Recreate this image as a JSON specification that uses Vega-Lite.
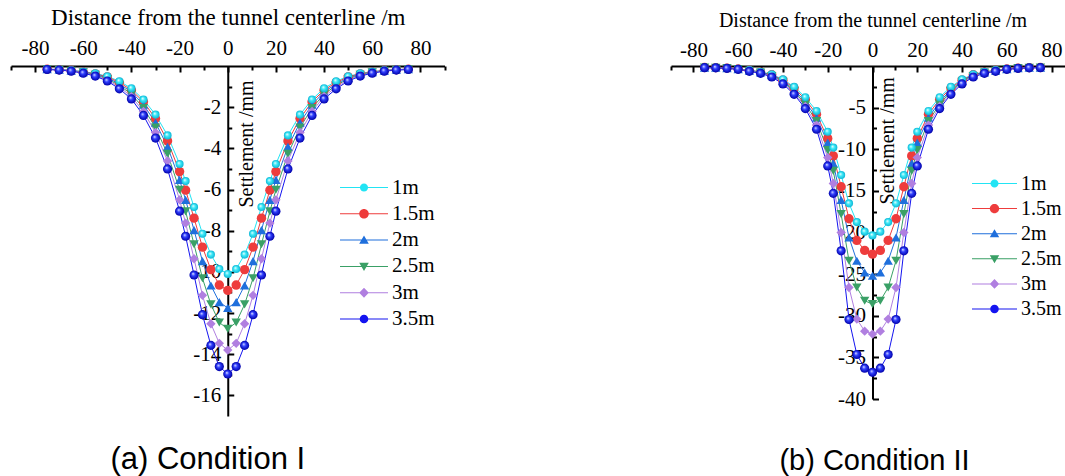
{
"$schema": "https://vega.github.io/schema/vega-lite/v6.json",
"background": "white",
"padding": {"left": 10, "top": 6, "right": 0, "bottom": 0},
"spacing": 224,
"config": {
  "view": {"stroke": null},
  "axis": {"domainColor": "black", "domainWidth": 2, "tickColor": "black", "tickWidth": 2, "labelFont": "Liberation Serif", "labelFontSize": 21, "labelColor": "black", "titleFont": "Liberation Serif", "titleFontSize": 21, "titleFontWeight": "normal", "titleColor": "black", "grid": false, "labelFlush": false, "labelOverlap": false, "labelBound": false},
  "legend": {"labelFont": "Liberation Serif", "labelFontSize": 21, "labelColor": "black", "padding": 0, "symbolStrokeWidth": 0, "symbolOpacity": 1, "clipHeight": 22, "rowPadding": 4.3, "labelOffset": 4},
  "title": {"font": "Liberation Sans", "fontSize": 29, "fontWeight": "normal", "color": "black"}
},
"resolve": {"scale": {"color": "independent", "shape": "independent"}, "legend": {"color": "independent", "shape": "independent"}},
"datasets": {
"c1": [
{"x":-75,"s":-0.15,"d":"1m"},{"x":-70,"s":-0.17,"d":"1m"},{"x":-65,"s":-0.21,"d":"1m"},{"x":-60,"s":-0.27,"d":"1m"},{"x":-55,"s":-0.36,"d":"1m"},{"x":-50,"s":-0.5,"d":"1m"},{"x":-45,"s":-0.74,"d":"1m"},{"x":-40,"s":-1.08,"d":"1m"},{"x":-35,"s":-1.63,"d":"1m"},{"x":-30,"s":-2.36,"d":"1m"},{"x":-25,"s":-3.37,"d":"1m"},{"x":-20,"s":-4.76,"d":"1m"},{"x":-17.5,"s":-5.59,"d":"1m"},{"x":-14,"s":-6.85,"d":"1m"},{"x":-10.5,"s":-8.15,"d":"1m"},{"x":-7,"s":-9.16,"d":"1m"},{"x":-3.5,"s":-9.86,"d":"1m"},{"x":0,"s":-10.1,"d":"1m"},{"x":3.5,"s":-9.86,"d":"1m"},{"x":7,"s":-9.16,"d":"1m"},{"x":10.5,"s":-8.15,"d":"1m"},{"x":14,"s":-6.85,"d":"1m"},{"x":17.5,"s":-5.59,"d":"1m"},{"x":20,"s":-4.76,"d":"1m"},{"x":25,"s":-3.37,"d":"1m"},{"x":30,"s":-2.36,"d":"1m"},{"x":35,"s":-1.63,"d":"1m"},{"x":40,"s":-1.08,"d":"1m"},{"x":45,"s":-0.74,"d":"1m"},{"x":50,"s":-0.5,"d":"1m"},{"x":55,"s":-0.36,"d":"1m"},{"x":60,"s":-0.27,"d":"1m"},{"x":65,"s":-0.21,"d":"1m"},{"x":70,"s":-0.17,"d":"1m"},{"x":75,"s":-0.15,"d":"1m"},
{"x":-75,"s":-0.15,"d":"1.5m"},{"x":-70,"s":-0.18,"d":"1.5m"},{"x":-65,"s":-0.22,"d":"1.5m"},{"x":-60,"s":-0.29,"d":"1.5m"},{"x":-55,"s":-0.38,"d":"1.5m"},{"x":-50,"s":-0.53,"d":"1.5m"},{"x":-45,"s":-0.8,"d":"1.5m"},{"x":-40,"s":-1.17,"d":"1.5m"},{"x":-35,"s":-1.74,"d":"1.5m"},{"x":-30,"s":-2.55,"d":"1.5m"},{"x":-25,"s":-3.64,"d":"1.5m"},{"x":-20,"s":-5.13,"d":"1.5m"},{"x":-17.5,"s":-6.03,"d":"1.5m"},{"x":-14,"s":-7.39,"d":"1.5m"},{"x":-10.5,"s":-8.8,"d":"1.5m"},{"x":-7,"s":-9.89,"d":"1.5m"},{"x":-3.5,"s":-10.64,"d":"1.5m"},{"x":0,"s":-10.9,"d":"1.5m"},{"x":3.5,"s":-10.64,"d":"1.5m"},{"x":7,"s":-9.89,"d":"1.5m"},{"x":10.5,"s":-8.8,"d":"1.5m"},{"x":14,"s":-7.39,"d":"1.5m"},{"x":17.5,"s":-6.03,"d":"1.5m"},{"x":20,"s":-5.13,"d":"1.5m"},{"x":25,"s":-3.64,"d":"1.5m"},{"x":30,"s":-2.55,"d":"1.5m"},{"x":35,"s":-1.74,"d":"1.5m"},{"x":40,"s":-1.17,"d":"1.5m"},{"x":45,"s":-0.8,"d":"1.5m"},{"x":50,"s":-0.53,"d":"1.5m"},{"x":55,"s":-0.38,"d":"1.5m"},{"x":60,"s":-0.29,"d":"1.5m"},{"x":65,"s":-0.22,"d":"1.5m"},{"x":70,"s":-0.18,"d":"1.5m"},{"x":75,"s":-0.15,"d":"1.5m"},
{"x":-75,"s":-0.16,"d":"2m"},{"x":-70,"s":-0.18,"d":"2m"},{"x":-65,"s":-0.23,"d":"2m"},{"x":-60,"s":-0.3,"d":"2m"},{"x":-55,"s":-0.4,"d":"2m"},{"x":-50,"s":-0.58,"d":"2m"},{"x":-45,"s":-0.87,"d":"2m"},{"x":-40,"s":-1.26,"d":"2m"},{"x":-35,"s":-1.88,"d":"2m"},{"x":-30,"s":-2.75,"d":"2m"},{"x":-25,"s":-3.92,"d":"2m"},{"x":-20,"s":-5.53,"d":"2m"},{"x":-17.5,"s":-6.5,"d":"2m"},{"x":-14,"s":-7.97,"d":"2m"},{"x":-10.5,"s":-9.48,"d":"2m"},{"x":-7,"s":-10.66,"d":"2m"},{"x":-3.5,"s":-11.47,"d":"2m"},{"x":0,"s":-11.75,"d":"2m"},{"x":3.5,"s":-11.47,"d":"2m"},{"x":7,"s":-10.66,"d":"2m"},{"x":10.5,"s":-9.48,"d":"2m"},{"x":14,"s":-7.97,"d":"2m"},{"x":17.5,"s":-6.5,"d":"2m"},{"x":20,"s":-5.53,"d":"2m"},{"x":25,"s":-3.92,"d":"2m"},{"x":30,"s":-2.75,"d":"2m"},{"x":35,"s":-1.88,"d":"2m"},{"x":40,"s":-1.26,"d":"2m"},{"x":45,"s":-0.87,"d":"2m"},{"x":50,"s":-0.58,"d":"2m"},{"x":55,"s":-0.4,"d":"2m"},{"x":60,"s":-0.3,"d":"2m"},{"x":65,"s":-0.23,"d":"2m"},{"x":70,"s":-0.18,"d":"2m"},{"x":75,"s":-0.16,"d":"2m"},
{"x":-75,"s":-0.16,"d":"2.5m"},{"x":-70,"s":-0.19,"d":"2.5m"},{"x":-65,"s":-0.23,"d":"2.5m"},{"x":-60,"s":-0.31,"d":"2.5m"},{"x":-55,"s":-0.43,"d":"2.5m"},{"x":-50,"s":-0.63,"d":"2.5m"},{"x":-45,"s":-0.94,"d":"2.5m"},{"x":-40,"s":-1.37,"d":"2.5m"},{"x":-35,"s":-2.04,"d":"2.5m"},{"x":-30,"s":-2.99,"d":"2.5m"},{"x":-25,"s":-4.27,"d":"2.5m"},{"x":-20,"s":-6.01,"d":"2.5m"},{"x":-17.5,"s":-7.06,"d":"2.5m"},{"x":-14,"s":-8.66,"d":"2.5m"},{"x":-10.5,"s":-10.31,"d":"2.5m"},{"x":-7,"s":-11.58,"d":"2.5m"},{"x":-3.5,"s":-12.46,"d":"2.5m"},{"x":0,"s":-12.77,"d":"2.5m"},{"x":3.5,"s":-12.46,"d":"2.5m"},{"x":7,"s":-11.58,"d":"2.5m"},{"x":10.5,"s":-10.31,"d":"2.5m"},{"x":14,"s":-8.66,"d":"2.5m"},{"x":17.5,"s":-7.06,"d":"2.5m"},{"x":20,"s":-6.01,"d":"2.5m"},{"x":25,"s":-4.27,"d":"2.5m"},{"x":30,"s":-2.99,"d":"2.5m"},{"x":35,"s":-2.04,"d":"2.5m"},{"x":40,"s":-1.37,"d":"2.5m"},{"x":45,"s":-0.94,"d":"2.5m"},{"x":50,"s":-0.63,"d":"2.5m"},{"x":55,"s":-0.43,"d":"2.5m"},{"x":60,"s":-0.31,"d":"2.5m"},{"x":65,"s":-0.23,"d":"2.5m"},{"x":70,"s":-0.19,"d":"2.5m"},{"x":75,"s":-0.16,"d":"2.5m"},
{"x":-75,"s":-0.16,"d":"3m"},{"x":-70,"s":-0.19,"d":"3m"},{"x":-65,"s":-0.24,"d":"3m"},{"x":-60,"s":-0.33,"d":"3m"},{"x":-55,"s":-0.46,"d":"3m"},{"x":-50,"s":-0.68,"d":"3m"},{"x":-45,"s":-1.02,"d":"3m"},{"x":-40,"s":-1.48,"d":"3m"},{"x":-35,"s":-2.21,"d":"3m"},{"x":-30,"s":-3.23,"d":"3m"},{"x":-25,"s":-4.61,"d":"3m"},{"x":-20,"s":-6.5,"d":"3m"},{"x":-17.5,"s":-7.63,"d":"3m"},{"x":-14,"s":-9.36,"d":"3m"},{"x":-10.5,"s":-11.14,"d":"3m"},{"x":-7,"s":-12.52,"d":"3m"},{"x":-3.5,"s":-13.47,"d":"3m"},{"x":0,"s":-13.8,"d":"3m"},{"x":3.5,"s":-13.47,"d":"3m"},{"x":7,"s":-12.52,"d":"3m"},{"x":10.5,"s":-11.14,"d":"3m"},{"x":14,"s":-9.36,"d":"3m"},{"x":17.5,"s":-7.63,"d":"3m"},{"x":20,"s":-6.5,"d":"3m"},{"x":25,"s":-4.61,"d":"3m"},{"x":30,"s":-3.23,"d":"3m"},{"x":35,"s":-2.21,"d":"3m"},{"x":40,"s":-1.48,"d":"3m"},{"x":45,"s":-1.02,"d":"3m"},{"x":50,"s":-0.68,"d":"3m"},{"x":55,"s":-0.46,"d":"3m"},{"x":60,"s":-0.33,"d":"3m"},{"x":65,"s":-0.24,"d":"3m"},{"x":70,"s":-0.19,"d":"3m"},{"x":75,"s":-0.16,"d":"3m"},
{"x":-75,"s":-0.17,"d":"3.5m"},{"x":-70,"s":-0.2,"d":"3.5m"},{"x":-65,"s":-0.25,"d":"3.5m"},{"x":-60,"s":-0.35,"d":"3.5m"},{"x":-55,"s":-0.49,"d":"3.5m"},{"x":-50,"s":-0.73,"d":"3.5m"},{"x":-45,"s":-1.11,"d":"3.5m"},{"x":-40,"s":-1.6,"d":"3.5m"},{"x":-35,"s":-2.4,"d":"3.5m"},{"x":-30,"s":-3.5,"d":"3.5m"},{"x":-25,"s":-5.0,"d":"3.5m"},{"x":-20,"s":-7.05,"d":"3.5m"},{"x":-17.5,"s":-8.27,"d":"3.5m"},{"x":-14,"s":-10.15,"d":"3.5m"},{"x":-10.5,"s":-12.08,"d":"3.5m"},{"x":-7,"s":-13.57,"d":"3.5m"},{"x":-3.5,"s":-14.6,"d":"3.5m"},{"x":0,"s":-14.96,"d":"3.5m"},{"x":3.5,"s":-14.6,"d":"3.5m"},{"x":7,"s":-13.57,"d":"3.5m"},{"x":10.5,"s":-12.08,"d":"3.5m"},{"x":14,"s":-10.15,"d":"3.5m"},{"x":17.5,"s":-8.27,"d":"3.5m"},{"x":20,"s":-7.05,"d":"3.5m"},{"x":25,"s":-5.0,"d":"3.5m"},{"x":30,"s":-3.5,"d":"3.5m"},{"x":35,"s":-2.4,"d":"3.5m"},{"x":40,"s":-1.6,"d":"3.5m"},{"x":45,"s":-1.11,"d":"3.5m"},{"x":50,"s":-0.73,"d":"3.5m"},{"x":55,"s":-0.49,"d":"3.5m"},{"x":60,"s":-0.35,"d":"3.5m"},{"x":65,"s":-0.25,"d":"3.5m"},{"x":70,"s":-0.2,"d":"3.5m"},{"x":75,"s":-0.17,"d":"3.5m"}
],
"c2": [
{"x":-75,"s":-0.18,"d":"1m"},{"x":-70,"s":-0.2,"d":"1m"},{"x":-65,"s":-0.25,"d":"1m"},{"x":-60,"s":-0.35,"d":"1m"},{"x":-55,"s":-0.5,"d":"1m"},{"x":-50,"s":-0.7,"d":"1m"},{"x":-45,"s":-1.0,"d":"1m"},{"x":-40,"s":-1.6,"d":"1m"},{"x":-35,"s":-2.5,"d":"1m"},{"x":-30,"s":-3.75,"d":"1m"},{"x":-25,"s":-5.4,"d":"1m"},{"x":-20,"s":-7.9,"d":"1m"},{"x":-17.5,"s":-9.8,"d":"1m"},{"x":-14,"s":-13.1,"d":"1m"},{"x":-10.5,"s":-16.5,"d":"1m"},{"x":-7,"s":-18.75,"d":"1m"},{"x":-3.5,"s":-19.9,"d":"1m"},{"x":0,"s":-20.35,"d":"1m"},{"x":3.5,"s":-19.9,"d":"1m"},{"x":7,"s":-18.75,"d":"1m"},{"x":10.5,"s":-16.5,"d":"1m"},{"x":14,"s":-13.1,"d":"1m"},{"x":17.5,"s":-9.8,"d":"1m"},{"x":20,"s":-7.9,"d":"1m"},{"x":25,"s":-5.4,"d":"1m"},{"x":30,"s":-3.75,"d":"1m"},{"x":35,"s":-2.5,"d":"1m"},{"x":40,"s":-1.6,"d":"1m"},{"x":45,"s":-1.0,"d":"1m"},{"x":50,"s":-0.7,"d":"1m"},{"x":55,"s":-0.5,"d":"1m"},{"x":60,"s":-0.35,"d":"1m"},{"x":65,"s":-0.25,"d":"1m"},{"x":70,"s":-0.2,"d":"1m"},{"x":75,"s":-0.18,"d":"1m"},
{"x":-75,"s":-0.18,"d":"1.5m"},{"x":-70,"s":-0.2,"d":"1.5m"},{"x":-65,"s":-0.25,"d":"1.5m"},{"x":-60,"s":-0.36,"d":"1.5m"},{"x":-55,"s":-0.52,"d":"1.5m"},{"x":-50,"s":-0.73,"d":"1.5m"},{"x":-45,"s":-1.05,"d":"1.5m"},{"x":-40,"s":-1.7,"d":"1.5m"},{"x":-35,"s":-2.65,"d":"1.5m"},{"x":-30,"s":-4.0,"d":"1.5m"},{"x":-25,"s":-5.8,"d":"1.5m"},{"x":-20,"s":-8.7,"d":"1.5m"},{"x":-17.5,"s":-10.8,"d":"1.5m"},{"x":-14,"s":-14.5,"d":"1.5m"},{"x":-10.5,"s":-18.35,"d":"1.5m"},{"x":-7,"s":-20.95,"d":"1.5m"},{"x":-3.5,"s":-22.15,"d":"1.5m"},{"x":0,"s":-22.6,"d":"1.5m"},{"x":3.5,"s":-22.15,"d":"1.5m"},{"x":7,"s":-20.95,"d":"1.5m"},{"x":10.5,"s":-18.35,"d":"1.5m"},{"x":14,"s":-14.5,"d":"1.5m"},{"x":17.5,"s":-10.8,"d":"1.5m"},{"x":20,"s":-8.7,"d":"1.5m"},{"x":25,"s":-5.8,"d":"1.5m"},{"x":30,"s":-4.0,"d":"1.5m"},{"x":35,"s":-2.65,"d":"1.5m"},{"x":40,"s":-1.7,"d":"1.5m"},{"x":45,"s":-1.05,"d":"1.5m"},{"x":50,"s":-0.73,"d":"1.5m"},{"x":55,"s":-0.52,"d":"1.5m"},{"x":60,"s":-0.36,"d":"1.5m"},{"x":65,"s":-0.25,"d":"1.5m"},{"x":70,"s":-0.2,"d":"1.5m"},{"x":75,"s":-0.18,"d":"1.5m"},
{"x":-75,"s":-0.19,"d":"2m"},{"x":-70,"s":-0.21,"d":"2m"},{"x":-65,"s":-0.26,"d":"2m"},{"x":-60,"s":-0.37,"d":"2m"},{"x":-55,"s":-0.55,"d":"2m"},{"x":-50,"s":-0.76,"d":"2m"},{"x":-45,"s":-1.1,"d":"2m"},{"x":-40,"s":-1.8,"d":"2m"},{"x":-35,"s":-2.85,"d":"2m"},{"x":-30,"s":-4.3,"d":"2m"},{"x":-25,"s":-6.2,"d":"2m"},{"x":-20,"s":-9.2,"d":"2m"},{"x":-17.5,"s":-11.7,"d":"2m"},{"x":-14,"s":-16.1,"d":"2m"},{"x":-10.5,"s":-20.6,"d":"2m"},{"x":-7,"s":-23.4,"d":"2m"},{"x":-3.5,"s":-24.8,"d":"2m"},{"x":0,"s":-25.2,"d":"2m"},{"x":3.5,"s":-24.8,"d":"2m"},{"x":7,"s":-23.4,"d":"2m"},{"x":10.5,"s":-20.6,"d":"2m"},{"x":14,"s":-16.1,"d":"2m"},{"x":17.5,"s":-11.7,"d":"2m"},{"x":20,"s":-9.2,"d":"2m"},{"x":25,"s":-6.2,"d":"2m"},{"x":30,"s":-4.3,"d":"2m"},{"x":35,"s":-2.85,"d":"2m"},{"x":40,"s":-1.8,"d":"2m"},{"x":45,"s":-1.1,"d":"2m"},{"x":50,"s":-0.76,"d":"2m"},{"x":55,"s":-0.55,"d":"2m"},{"x":60,"s":-0.37,"d":"2m"},{"x":65,"s":-0.26,"d":"2m"},{"x":70,"s":-0.21,"d":"2m"},{"x":75,"s":-0.19,"d":"2m"},
{"x":-75,"s":-0.19,"d":"2.5m"},{"x":-70,"s":-0.21,"d":"2.5m"},{"x":-65,"s":-0.26,"d":"2.5m"},{"x":-60,"s":-0.38,"d":"2.5m"},{"x":-55,"s":-0.58,"d":"2.5m"},{"x":-50,"s":-0.8,"d":"2.5m"},{"x":-45,"s":-1.2,"d":"2.5m"},{"x":-40,"s":-1.9,"d":"2.5m"},{"x":-35,"s":-3.0,"d":"2.5m"},{"x":-30,"s":-4.6,"d":"2.5m"},{"x":-25,"s":-6.6,"d":"2.5m"},{"x":-20,"s":-10.1,"d":"2.5m"},{"x":-17.5,"s":-12.6,"d":"2.5m"},{"x":-14,"s":-17.8,"d":"2.5m"},{"x":-10.5,"s":-23.4,"d":"2.5m"},{"x":-7,"s":-26.6,"d":"2.5m"},{"x":-3.5,"s":-28.2,"d":"2.5m"},{"x":0,"s":-28.6,"d":"2.5m"},{"x":3.5,"s":-28.2,"d":"2.5m"},{"x":7,"s":-26.6,"d":"2.5m"},{"x":10.5,"s":-23.4,"d":"2.5m"},{"x":14,"s":-17.8,"d":"2.5m"},{"x":17.5,"s":-12.6,"d":"2.5m"},{"x":20,"s":-10.1,"d":"2.5m"},{"x":25,"s":-6.6,"d":"2.5m"},{"x":30,"s":-4.6,"d":"2.5m"},{"x":35,"s":-3.0,"d":"2.5m"},{"x":40,"s":-1.9,"d":"2.5m"},{"x":45,"s":-1.2,"d":"2.5m"},{"x":50,"s":-0.8,"d":"2.5m"},{"x":55,"s":-0.58,"d":"2.5m"},{"x":60,"s":-0.38,"d":"2.5m"},{"x":65,"s":-0.26,"d":"2.5m"},{"x":70,"s":-0.21,"d":"2.5m"},{"x":75,"s":-0.19,"d":"2.5m"},
{"x":-75,"s":-0.2,"d":"3m"},{"x":-70,"s":-0.22,"d":"3m"},{"x":-65,"s":-0.27,"d":"3m"},{"x":-60,"s":-0.39,"d":"3m"},{"x":-55,"s":-0.61,"d":"3m"},{"x":-50,"s":-0.84,"d":"3m"},{"x":-45,"s":-1.25,"d":"3m"},{"x":-40,"s":-2.0,"d":"3m"},{"x":-35,"s":-3.2,"d":"3m"},{"x":-30,"s":-4.85,"d":"3m"},{"x":-25,"s":-7.1,"d":"3m"},{"x":-20,"s":-11.0,"d":"3m"},{"x":-17.5,"s":-14.1,"d":"3m"},{"x":-14,"s":-20.0,"d":"3m"},{"x":-10.5,"s":-26.6,"d":"3m"},{"x":-7,"s":-30.4,"d":"3m"},{"x":-3.5,"s":-31.85,"d":"3m"},{"x":0,"s":-32.2,"d":"3m"},{"x":3.5,"s":-31.85,"d":"3m"},{"x":7,"s":-30.4,"d":"3m"},{"x":10.5,"s":-26.6,"d":"3m"},{"x":14,"s":-20.0,"d":"3m"},{"x":17.5,"s":-14.1,"d":"3m"},{"x":20,"s":-11.0,"d":"3m"},{"x":25,"s":-7.1,"d":"3m"},{"x":30,"s":-4.85,"d":"3m"},{"x":35,"s":-3.2,"d":"3m"},{"x":40,"s":-2.0,"d":"3m"},{"x":45,"s":-1.25,"d":"3m"},{"x":50,"s":-0.84,"d":"3m"},{"x":55,"s":-0.61,"d":"3m"},{"x":60,"s":-0.39,"d":"3m"},{"x":65,"s":-0.27,"d":"3m"},{"x":70,"s":-0.22,"d":"3m"},{"x":75,"s":-0.2,"d":"3m"},
{"x":-75,"s":-0.2,"d":"3.5m"},{"x":-70,"s":-0.22,"d":"3.5m"},{"x":-65,"s":-0.28,"d":"3.5m"},{"x":-60,"s":-0.4,"d":"3.5m"},{"x":-55,"s":-0.64,"d":"3.5m"},{"x":-50,"s":-0.88,"d":"3.5m"},{"x":-45,"s":-1.32,"d":"3.5m"},{"x":-40,"s":-2.15,"d":"3.5m"},{"x":-35,"s":-3.4,"d":"3.5m"},{"x":-30,"s":-5.12,"d":"3.5m"},{"x":-25,"s":-7.6,"d":"3.5m"},{"x":-20,"s":-12.0,"d":"3.5m"},{"x":-17.5,"s":-15.3,"d":"3.5m"},{"x":-14,"s":-22.2,"d":"3.5m"},{"x":-10.5,"s":-30.45,"d":"3.5m"},{"x":-7,"s":-34.65,"d":"3.5m"},{"x":-3.5,"s":-36.3,"d":"3.5m"},{"x":0,"s":-36.8,"d":"3.5m"},{"x":3.5,"s":-36.3,"d":"3.5m"},{"x":7,"s":-34.65,"d":"3.5m"},{"x":10.5,"s":-30.45,"d":"3.5m"},{"x":14,"s":-22.2,"d":"3.5m"},{"x":17.5,"s":-15.3,"d":"3.5m"},{"x":20,"s":-12.0,"d":"3.5m"},{"x":25,"s":-7.6,"d":"3.5m"},{"x":30,"s":-5.12,"d":"3.5m"},{"x":35,"s":-3.4,"d":"3.5m"},{"x":40,"s":-2.15,"d":"3.5m"},{"x":45,"s":-1.32,"d":"3.5m"},{"x":50,"s":-0.88,"d":"3.5m"},{"x":55,"s":-0.64,"d":"3.5m"},{"x":60,"s":-0.4,"d":"3.5m"},{"x":65,"s":-0.28,"d":"3.5m"},{"x":70,"s":-0.22,"d":"3.5m"},{"x":75,"s":-0.2,"d":"3.5m"}
]
},
"hconcat": [
{
  "width": 433.5, "height": 350,
  "data": {"name": "c1"},
  "title": {"text": "(a) Condition I", "orient": "bottom", "baseline": "alphabetic", "offset": 53, "dx": -20, "anchor": "middle", "fontSize": 31},
  "resolve": {"scale": {"color": "independent", "shape": "independent"}},
  "encoding": {
    "x": {"field": "x", "type": "quantitative", "scale": {"domain": [-90, 90], "nice": false, "zero": false},
      "axis": {"orient": "top", "title": "Distance from the tunnel centerline /m", "values": [-90,-80,-70,-60,-50,-40,-30,-20,-10,0,10,20,30,40,50,60,70,80,90],
        "labelExpr": "datum.value % 20 === 0 ? toString(datum.value) : ''",
        "tickSize": {"condition": {"test": "datum.value % 20 === 0", "value": -6}, "value": -4},
        "labelPadding": 18, "labelBaseline": "alphabetic", "titleY": -42, "titleBaseline": "alphabetic", "titleFontSize": 23}},
    "y": {"field": "s", "type": "quantitative", "scale": {"domain": [-17, 0], "nice": false, "zero": false},
      "axis": {"orient": "left", "offset": -216.75, "title": "Settlement /mm", "values": [-1,-2,-3,-4,-5,-6,-7,-8,-9,-10,-11,-12,-13,-14,-15,-16],
        "labelExpr": "datum.value % 2 === 0 ? toString(datum.value) : ''",
        "tickSize": {"condition": {"test": "datum.value % 2 === 0", "value": -6}, "value": -4},
        "labelPadding": 13, "titleX": 19, "titleY": 77.5, "titleAngle": -90, "titleBaseline": "middle", "titleAlign": "center", "titleFontSize": 20}}
  },
  "layer": [
    {"mark": {"type": "line", "strokeWidth": 1},
     "encoding": {"color": {"field": "d", "type": "nominal", "sort": null, "legend": null,
        "scale": {"domain": ["1m","1.5m","2m","2.5m","3m","3.5m"], "range": ["#22e4f4","#ee3c3c","#1f6fdc","#3aa066","#b07fe0","#1414f0"]}}}},
    {"transform": [{"filter": "datum.d !== '1m' && datum.d !== '3.5m'"}],
     "mark": {"type": "point", "filled": true, "size": 88, "opacity": 1},
     "encoding": {
       "color": {"field": "d", "type": "nominal", "sort": null, "legend": null, "scale": {"domain": ["1m","1.5m","2m","2.5m","3m","3.5m"], "range": ["#22e4f4","#ee3c3c","#1f6fdc","#3aa066","#b07fe0","#1414f0"]}},
       "shape": {"field": "d", "type": "nominal", "sort": null, "legend": null, "scale": {"domain": ["1m","1.5m","2m","2.5m","3m","3.5m"], "range": ["circle","circle","triangle-up","triangle-down","diamond","circle"]}}}},
    {"transform": [{"filter": "datum.d === '1m'"}],
     "mark": {"type": "point", "filled": true, "shape": "circle", "size": 66, "opacity": 1, "strokeWidth": 0,
       "fill": {"gradient": "radial", "x1": 0.38, "y1": 0.35, "r1": 0, "x2": 0.5, "y2": 0.5, "r2": 0.5, "stops": [{"offset": 0, "color": "#ffffff"}, {"offset": 0.45, "color": "#3ceaf8"}, {"offset": 1, "color": "#0fb5d5"}]}}},
    {"transform": [{"filter": "datum.d === '3.5m'"}],
     "mark": {"type": "point", "filled": true, "shape": "circle", "size": 84, "opacity": 1, "strokeWidth": 0,
       "fill": {"gradient": "radial", "x1": 0.38, "y1": 0.35, "r1": 0, "x2": 0.5, "y2": 0.5, "r2": 0.5, "stops": [{"offset": 0, "color": "#eef0ff"}, {"offset": 0.4, "color": "#3040ff"}, {"offset": 1, "color": "#0000a8"}]}}},
    {"transform": [{"filter": "datum.x > 999"}],
     "mark": {"type": "point", "filled": true, "opacity": 1},
     "encoding": {
       "color": {"field": "d", "type": "nominal", "sort": null,
         "scale": {"domain": ["1m","1.5m","2m","2.5m","3m","3.5m"], "range": ["#22e4f4","#ee3c3c","#1f6fdc","#3aa066","#b07fe0","#1414f0"]},
         "legend": {"title": null, "orient": "none", "legendX": 329, "legendY": 110.5, "symbolSize": 2304, "symbolStrokeWidth": 0, "symbolOpacity": 1}},
       "shape": {"field": "d", "type": "nominal", "sort": null,
         "scale": {"domain": ["1m","1.5m","2m","2.5m","3m","3.5m"], "range": [
           "M-1,-0.021H1V0.021H-1ZM-0.17,0A0.17,0.17,0,1,1,0.17,0A0.17,0.17,0,1,1,-0.17,0Z",
           "M-1,-0.021H1V0.021H-1ZM-0.2,0A0.2,0.2,0,1,1,0.2,0A0.2,0.2,0,1,1,-0.2,0Z",
           "M-1,-0.021H1V0.021H-1ZM0,-0.19L0.2,0.15L-0.2,0.15Z",
           "M-1,-0.021H1V0.021H-1ZM0,0.19L-0.2,-0.15L0.2,-0.15Z",
           "M-1,-0.021H1V0.021H-1ZM0,-0.21L0.2,0L0,0.21L-0.2,0Z",
           "M-1,-0.021H1V0.021H-1ZM-0.18,0A0.18,0.18,0,1,1,0.18,0A0.18,0.18,0,1,1,-0.18,0Z"]},
         "legend": {"title": null, "orient": "none", "legendX": 329, "legendY": 110.5, "symbolSize": 2304, "symbolStrokeWidth": 0, "symbolOpacity": 1}}}}
  ]
},
{
  "width": 403, "height": 333,
  "data": {"name": "c2"},
  "title": {"text": "(b) Condition II", "orient": "bottom", "baseline": "alphabetic", "offset": 61, "dx": 2, "anchor": "middle"},
  "resolve": {"scale": {"color": "independent", "shape": "independent"}},
  "encoding": {
    "x": {"field": "x", "type": "quantitative", "scale": {"domain": [-90, 90], "nice": false, "zero": false},
      "axis": {"orient": "top", "title": "Distance from the tunnel centerline /m", "values": [-90,-80,-70,-60,-50,-40,-30,-20,-10,0,10,20,30,40,50,60,70,80,90],
        "labelExpr": "datum.value % 20 === 0 ? toString(datum.value) : ''",
        "tickSize": {"condition": {"test": "datum.value % 20 === 0", "value": -6}, "value": -4},
        "labelPadding": 16, "labelBaseline": "alphabetic", "titleY": -40, "titleBaseline": "alphabetic", "titleFontSize": 20}},
    "y": {"field": "s", "type": "quantitative", "scale": {"domain": [-40, 0], "nice": false, "zero": false},
      "axis": {"orient": "left", "offset": -201.5, "title": "Settlement /mm", "values": [-2.5,-5,-7.5,-10,-12.5,-15,-17.5,-20,-22.5,-25,-27.5,-30,-32.5,-35,-37.5,-40],
        "labelExpr": "datum.value % 5 === 0 ? toString(datum.value) : ''",
        "tickSize": {"condition": {"test": "datum.value % 5 === 0", "value": -6}, "value": -4},
        "labelPadding": 13, "titleX": 14.5, "titleY": 74.3, "titleAngle": -90, "titleBaseline": "middle", "titleAlign": "center", "titleFontSize": 20}}
  },
  "layer": [
    {"mark": {"type": "line", "strokeWidth": 1},
     "encoding": {"color": {"field": "d", "type": "nominal", "sort": null, "legend": null,
        "scale": {"domain": ["1m","1.5m","2m","2.5m","3m","3.5m"], "range": ["#22e4f4","#ee3c3c","#1f6fdc","#3aa066","#b07fe0","#1414f0"]}}}},
    {"transform": [{"filter": "datum.d !== '1m' && datum.d !== '3.5m'"}],
     "mark": {"type": "point", "filled": true, "size": 88, "opacity": 1},
     "encoding": {
       "color": {"field": "d", "type": "nominal", "sort": null, "legend": null, "scale": {"domain": ["1m","1.5m","2m","2.5m","3m","3.5m"], "range": ["#22e4f4","#ee3c3c","#1f6fdc","#3aa066","#b07fe0","#1414f0"]}},
       "shape": {"field": "d", "type": "nominal", "sort": null, "legend": null, "scale": {"domain": ["1m","1.5m","2m","2.5m","3m","3.5m"], "range": ["circle","circle","triangle-up","triangle-down","diamond","circle"]}}}},
    {"transform": [{"filter": "datum.d === '1m'"}],
     "mark": {"type": "point", "filled": true, "shape": "circle", "size": 66, "opacity": 1, "strokeWidth": 0,
       "fill": {"gradient": "radial", "x1": 0.38, "y1": 0.35, "r1": 0, "x2": 0.5, "y2": 0.5, "r2": 0.5, "stops": [{"offset": 0, "color": "#ffffff"}, {"offset": 0.45, "color": "#3ceaf8"}, {"offset": 1, "color": "#0fb5d5"}]}}},
    {"transform": [{"filter": "datum.d === '3.5m'"}],
     "mark": {"type": "point", "filled": true, "shape": "circle", "size": 84, "opacity": 1, "strokeWidth": 0,
       "fill": {"gradient": "radial", "x1": 0.38, "y1": 0.35, "r1": 0, "x2": 0.5, "y2": 0.5, "r2": 0.5, "stops": [{"offset": 0, "color": "#eef0ff"}, {"offset": 0.4, "color": "#3040ff"}, {"offset": 1, "color": "#0000a8"}]}}},
    {"transform": [{"filter": "datum.x > 999"}],
     "mark": {"type": "point", "filled": true, "opacity": 1},
     "encoding": {
       "color": {"field": "d", "type": "nominal", "sort": null,
         "scale": {"domain": ["1m","1.5m","2m","2.5m","3m","3.5m"], "range": ["#22e4f4","#ee3c3c","#1f6fdc","#3aa066","#b07fe0","#1414f0"]},
         "legend": {"title": null, "orient": "none", "legendX": 301, "legendY": 106.5, "symbolSize": 2025, "symbolStrokeWidth": 0, "symbolOpacity": 1, "rowPadding": 3.1, "labelFontSize": 20}},
       "shape": {"field": "d", "type": "nominal", "sort": null,
         "scale": {"domain": ["1m","1.5m","2m","2.5m","3m","3.5m"], "range": [
           "M-1,-0.022H1V0.022H-1ZM-0.18,0A0.18,0.18,0,1,1,0.18,0A0.18,0.18,0,1,1,-0.18,0Z",
           "M-1,-0.022H1V0.022H-1ZM-0.21,0A0.21,0.21,0,1,1,0.21,0A0.21,0.21,0,1,1,-0.21,0Z",
           "M-1,-0.022H1V0.022H-1ZM0,-0.2L0.21,0.16L-0.21,0.16Z",
           "M-1,-0.022H1V0.022H-1ZM0,0.2L-0.21,-0.16L0.21,-0.16Z",
           "M-1,-0.022H1V0.022H-1ZM0,-0.22L0.21,0L0,0.22L-0.21,0Z",
           "M-1,-0.022H1V0.022H-1ZM-0.19,0A0.19,0.19,0,1,1,0.19,0A0.19,0.19,0,1,1,-0.19,0Z"]},
         "legend": {"title": null, "orient": "none", "legendX": 301, "legendY": 106.5, "symbolSize": 2025, "symbolStrokeWidth": 0, "symbolOpacity": 1, "rowPadding": 3.1, "labelFontSize": 20}}}}
  ]
}
]
}
